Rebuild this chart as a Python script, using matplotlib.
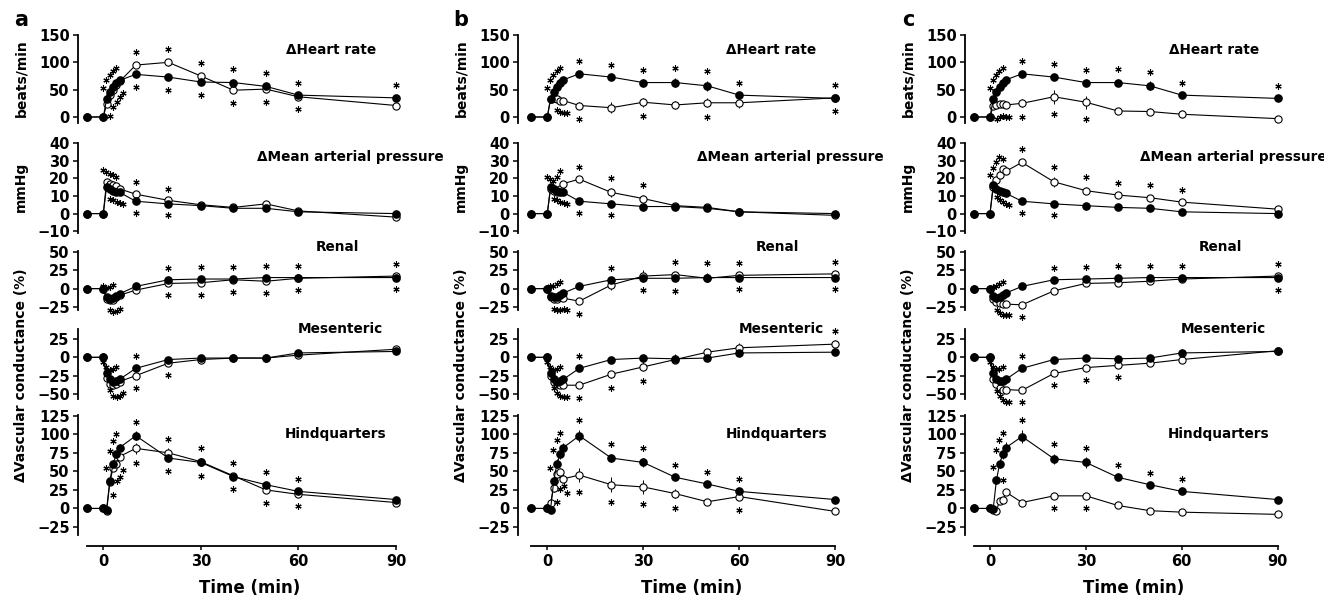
import matplotlib
matplotlib.use("Agg")
from matplotlib import pyplot as plt
from matplotlib import transforms

plt.rcParams["font.family"] = ["DejaVu Sans"]
plt.rcParams["font.weight"] = "bold"

times = [-5, 0, 1, 2, 3, 4, 5, 10, 20, 30, 40, 50, 60, 90]
tick_times = [0, 30, 60, 90]

# ---- column a ----
a_hr_f = [0, 0, 32, 45, 55, 62, 67, 78, 73, 64, 63, 56, 40, 35]
a_hr_o = [0, 0, 23, 40, 50, 58, 65, 95, 100, 75, 49, 51, 37, 21]
a_map_f = [0, 0, 15, 14, 13, 12.5, 12, 7, 5.5, 4.5, 3, 3, 1, 0]
a_map_o = [0, 0, 18, 17, 16, 15.5, 14, 11, 7.5, 5, 3.5, 5.5, 1.5, -2]
a_ren_f = [0, 0, -12, -14, -13, -10, -7, 3, 12, 13, 13, 15, 15, 15]
a_ren_o = [0, 0, -14, -16, -15, -12, -9, -2, 7, 8, 12, 10, 14, 17]
a_mes_f = [0, 0, -22, -30, -33, -32, -30, -15, -3, -1, -1, -1, 6, 8]
a_mes_o = [0, 0, -28, -36, -38, -37, -33, -25, -8, -3, -1, -1, 3, 11]
a_hq_f = [0, 0, -2, 37, 60, 73, 82, 98, 68, 62, 43, 32, 23, 12]
a_hq_o = [0, 0, -4, 35, 55, 60, 70, 81, 75, 63, 44, 25, 19, 8]

a_hr_f_err = [0, 0, 4, 4, 4, 4, 4, 5, 5, 6, 7, 6, 5, 5]
a_hr_o_err = [0, 0, 4, 4, 4, 4, 4, 6, 6, 6, 6, 6, 5, 4]
a_map_f_err = [0, 0, 1, 1, 1, 1, 1, 1, 1, 1, 1, 1, 1, 1]
a_map_o_err = [0, 0, 1, 1, 1, 1, 1, 1.5, 1, 1, 1, 1, 1, 1]
a_ren_f_err = [0, 0, 2, 2, 2, 2, 2, 2, 3, 3, 3, 3, 3, 3]
a_ren_o_err = [0, 0, 2, 2, 2, 2, 2, 3, 3, 3, 3, 3, 3, 3]
a_mes_f_err = [0, 0, 3, 3, 3, 3, 3, 3, 2, 2, 2, 2, 2, 2]
a_mes_o_err = [0, 0, 3, 3, 3, 3, 3, 4, 3, 2, 2, 2, 2, 2]
a_hq_f_err = [0, 0, 2, 4, 5, 5, 5, 6, 5, 5, 4, 4, 3, 3]
a_hq_o_err = [0, 0, 2, 4, 5, 5, 5, 7, 6, 5, 4, 4, 3, 3]

# significance stars: 1 above, -1 below, 0 none
a_hr_f_sig = [0, 0, 1, 1, 1, 1, 1, -1, -1, -1, 1, 1, 1, 1]
a_hr_o_sig = [0, 0, -1, -1, -1, -1, -1, 1, 1, 1, -1, -1, -1, 0]
a_map_f_sig = [0, 0, -1, -1, -1, -1, -1, -1, -1, 0, 0, 0, 0, 0]
a_map_o_sig = [0, 0, 1, 1, 1, 1, 1, 1, 1, 0, 0, 0, 0, 0]
a_ren_f_sig = [0, 0, 1, 1, 1, 1, 0, 0, 1, 1, 1, 1, 1, -1]
a_ren_o_sig = [0, 0, -1, -1, -1, -1, 0, 0, -1, -1, -1, -1, -1, 1]
a_mes_f_sig = [0, 0, 1, 1, 1, 1, 1, 1, 0, 0, 0, 0, 0, 0]
a_mes_o_sig = [0, 0, -1, -1, -1, -1, -1, -1, -1, 0, 0, 0, 0, 0]
a_hq_f_sig = [0, 0, 0, 1, 1, 1, 1, 1, -1, -1, -1, 1, 1, 0]
a_hq_o_sig = [0, 0, 0, -1, -1, -1, -1, -1, 1, 1, 1, -1, -1, 0]

# ---- column b ----
b_hr_f = [0, 0, 32, 45, 55, 62, 68, 79, 73, 63, 63, 57, 40, 34]
b_hr_o = [0, 0, 33, 35, 32, 30, 30, 21, 17, 27, 22, 26, 26, 35]
b_map_f = [0, 0, 15, 14, 13, 12.5, 12, 7, 5.5, 4, 4, 3, 1, 0]
b_map_o = [0, 0, 14, 13, 12, 14, 17, 19.5, 12, 8.5, 4.5, 3.5, 1, -1]
b_ren_f = [0, 0, -10, -12, -12, -9, -6, 3, 12, 14, 14, 15, 15, 15]
b_ren_o = [0, 0, -12, -14, -14, -12, -13, -17, 5, 17, 19, 14, 18, 20]
b_mes_f = [0, 0, -22, -30, -33, -32, -30, -15, -3, -1, -2, -1, 6, 7]
b_mes_o = [0, 0, -25, -33, -36, -38, -38, -38, -23, -13, -3, 7, 13, 18]
b_hq_f = [0, 0, -2, 37, 60, 73, 82, 98, 68, 62, 42, 33, 23, 12]
b_hq_o = [0, 0, 7, 28, 46, 49, 40, 45, 32, 29, 20, 9, 16, -4]

b_hr_f_err = [0, 0, 4, 4, 4, 4, 4, 5, 5, 6, 8, 9, 5, 6]
b_hr_o_err = [0, 0, 5, 5, 5, 5, 5, 6, 10, 8, 7, 8, 10, 6]
b_map_f_err = [0, 0, 1, 1, 1, 1, 1, 1, 1, 1, 1.5, 1.5, 2, 1]
b_map_o_err = [0, 0, 1, 1, 1, 1, 1.5, 1.5, 2.5, 2, 1.5, 1.5, 2, 1]
b_ren_f_err = [0, 0, 2, 2, 2, 2, 2, 2, 3, 3, 4, 6, 3, 3]
b_ren_o_err = [0, 0, 2, 2, 2, 2, 3, 4, 7, 8, 4, 5, 4, 3]
b_mes_f_err = [0, 0, 2, 3, 3, 3, 3, 3, 2, 2, 6, 2, 2, 2]
b_mes_o_err = [0, 0, 3, 3, 3, 3, 3, 4, 5, 6, 5, 5, 7, 5]
b_hq_f_err = [0, 0, 3, 5, 6, 6, 6, 8, 6, 6, 4, 3, 3, 3]
b_hq_o_err = [0, 0, 4, 6, 6, 6, 6, 10, 10, 10, 6, 4, 5, 3]

b_hr_f_sig = [0, 0, 1, 1, 1, 1, 1, 1, 1, 1, 1, 1, 1, -1]
b_hr_o_sig = [0, 0, 0, -1, -1, -1, -1, -1, 0, -1, 0, -1, 0, 1]
b_map_f_sig = [0, 0, -1, -1, -1, -1, -1, -1, -1, 0, 0, 0, 0, 0]
b_map_o_sig = [0, 0, 1, 1, 1, 1, 1, 1, 1, 1, 0, 0, 0, 0]
b_ren_f_sig = [0, 0, 0, 1, 1, 1, 1, 0, 1, -1, -1, 1, -1, -1]
b_ren_o_sig = [0, 0, -1, -1, -1, -1, -1, -1, 0, 0, 1, 0, 1, 1]
b_mes_f_sig = [0, 0, 1, 1, 1, 1, 1, 1, 0, 0, 0, 0, 0, 0]
b_mes_o_sig = [0, 0, -1, -1, -1, -1, -1, -1, -1, -1, 0, 0, 0, 1]
b_hq_f_sig = [0, 0, 0, 1, 1, 1, 1, 1, 1, 1, 1, 1, 1, 0]
b_hq_o_sig = [0, 0, 0, -1, -1, -1, -1, -1, -1, -1, -1, 0, -1, 0]

# ---- column c ----
c_hr_f = [0, 0, 32, 45, 55, 62, 68, 79, 73, 63, 63, 57, 40, 34]
c_hr_o = [0, 0, 20, 22, 24, 23, 22, 25, 37, 27, 11, 10, 5, -3]
c_map_f = [0, 0, 16, 14, 13, 12, 11.5, 7, 5.5, 4.5, 3.5, 3, 1, 0]
c_map_o = [0, 0, 15, 19, 22, 25, 24, 29, 18, 13, 10.5, 9, 6.5, 2.5]
c_ren_f = [0, 0, -10, -13, -12, -9, -6, 3, 12, 13, 14, 15, 15, 15]
c_ren_o = [0, 0, -14, -18, -20, -21, -21, -22, -3, 7, 8, 10, 13, 17]
c_mes_f = [0, 0, -22, -30, -32, -32, -30, -15, -3, -1, -2, -1, 6, 8]
c_mes_o = [0, 0, -30, -37, -42, -44, -44, -45, -22, -14, -11, -8, -3, 9]
c_hq_f = [0, 0, -1, 38, 60, 73, 82, 97, 67, 62, 42, 32, 23, 12]
c_hq_o = [0, 0, -2, -3, 10, 11, 22, 8, 17, 17, 4, -3, -5, -8]

c_hr_f_err = [0, 0, 4, 4, 4, 4, 4, 6, 6, 6, 7, 8, 5, 5]
c_hr_o_err = [0, 0, 5, 5, 5, 5, 5, 7, 13, 12, 6, 6, 7, 4]
c_map_f_err = [0, 0, 1, 1, 1, 1, 1, 1, 1, 1, 1, 1, 1, 1]
c_map_o_err = [0, 0, 1.5, 1.5, 1.5, 1.5, 1.5, 2, 3, 2, 1.5, 1.5, 1.5, 1]
c_ren_f_err = [0, 0, 2, 2, 2, 2, 2, 2, 3, 3, 3, 3, 3, 4]
c_ren_o_err = [0, 0, 2, 2, 2, 2, 2, 3, 3, 3, 3, 3, 4, 3]
c_mes_f_err = [0, 0, 2, 3, 3, 3, 3, 3, 2, 2, 2, 2, 2, 2]
c_mes_o_err = [0, 0, 3, 3, 3, 3, 3, 3, 3, 3, 3, 3, 3, 3]
c_hq_f_err = [0, 0, 3, 5, 6, 6, 7, 9, 7, 7, 4, 3, 3, 3]
c_hq_o_err = [0, 0, 2, 3, 3, 3, 3, 3, 3, 3, 3, 3, 3, 3]

c_hr_f_sig = [0, 0, 1, 1, 1, 1, 1, 1, 1, 1, 1, 1, 1, 1]
c_hr_o_sig = [0, 0, -1, -1, -1, -1, -1, -1, -1, -1, 0, 0, 0, 0]
c_map_f_sig = [0, 0, -1, -1, -1, -1, -1, -1, -1, 0, 0, 0, 0, 0]
c_map_o_sig = [0, 0, 1, 1, 1, 1, 1, 1, 1, 1, 1, 1, 1, 0]
c_ren_f_sig = [0, 0, 0, 1, 1, 1, 1, 0, 1, 1, 1, 1, 1, -1]
c_ren_o_sig = [0, 0, -1, -1, -1, -1, -1, -1, 0, 0, 0, 0, 0, 1]
c_mes_f_sig = [0, 0, 1, 1, 1, 1, 1, 1, 0, 0, 0, 0, 0, 0]
c_mes_o_sig = [0, 0, -1, -1, -1, -1, -1, -1, -1, -1, -1, 0, 0, 0]
c_hq_f_sig = [0, 0, 0, 1, 1, 1, 1, 1, 1, 1, 1, 1, 1, 0]
c_hq_o_sig = [0, 0, 0, 0, 0, 0, 1, 0, -1, -1, 0, 0, 0, 0]

panel_titles = ["\u0394Heart rate", "\u0394Mean arterial pressure", "Renal",
                "Mesenteric", "Hindquarters"]
row_labels = ["beats/min", "mmHg", "\u0394Vascular conductance (%)"]
col_letters = ["a", "b", "c"]

columns = [
    dict(filled=[a_hr_f, a_map_f, a_ren_f, a_mes_f, a_hq_f],
         opened=[a_hr_o, a_map_o, a_ren_o, a_mes_o, a_hq_o],
         f_err=[a_hr_f_err, a_map_f_err, a_ren_f_err, a_mes_f_err, a_hq_f_err],
         o_err=[a_hr_o_err, a_map_o_err, a_ren_o_err, a_mes_o_err, a_hq_o_err],
         f_sig=[a_hr_f_sig, a_map_f_sig, a_ren_f_sig, a_mes_f_sig, a_hq_f_sig],
         o_sig=[a_hr_o_sig, a_map_o_sig, a_ren_o_sig, a_mes_o_sig, a_hq_o_sig]),
    dict(filled=[b_hr_f, b_map_f, b_ren_f, b_mes_f, b_hq_f],
         opened=[b_hr_o, b_map_o, b_ren_o, b_mes_o, b_hq_o],
         f_err=[b_hr_f_err, b_map_f_err, b_ren_f_err, b_mes_f_err, b_hq_f_err],
         o_err=[b_hr_o_err, b_map_o_err, b_ren_o_err, b_mes_o_err, b_hq_o_err],
         f_sig=[b_hr_f_sig, b_map_f_sig, b_ren_f_sig, b_mes_f_sig, b_hq_f_sig],
         o_sig=[b_hr_o_sig, b_map_o_sig, b_ren_o_sig, b_mes_o_sig, b_hq_o_sig]),
    dict(filled=[c_hr_f, c_map_f, c_ren_f, c_mes_f, c_hq_f],
         opened=[c_hr_o, c_map_o, c_ren_o, c_mes_o, c_hq_o],
         f_err=[c_hr_f_err, c_map_f_err, c_ren_f_err, c_mes_f_err, c_hq_f_err],
         o_err=[c_hr_o_err, c_map_o_err, c_ren_o_err, c_mes_o_err, c_hq_o_err],
         f_sig=[c_hr_f_sig, c_map_f_sig, c_ren_f_sig, c_mes_f_sig, c_hq_f_sig],
         o_sig=[c_hr_o_sig, c_map_o_sig, c_ren_o_sig, c_mes_o_sig, c_hq_o_sig]),
]

# layout in pixels (figure is 1324 x 598)
W, H = 1324, 598
col_px = [(78, 103.3, 396.0), (518, 547.3, 835.3), (965, 990.0, 1277.7)]  # spine, t=0, t=90
rows = [
    dict(top=35, bottom=123, ylim=(-11, 150), ticks=[0, 50, 100, 150], tx=70, ty=122),
    dict(top=143, bottom=233, ylim=(-11, 40), ticks=[-10, 0, 10, 20, 30, 40], tx=76, ty=32),
    dict(top=251, bottom=310, ylim=(-29, 51), ticks=[-25, 0, 25, 50], tx=72, ty=57),
    dict(top=329, bottom=399, ylim=(-56.8, 38.6), ticks=[-50, -25, 0, 25], tx=73, ty=38.6),
    dict(top=415, bottom=535, ylim=(-35.8, 126), ticks=[-25, 0, 25, 50, 75, 100, 125], tx=71.5, ty=100.7),
]
label_y = [78, 187, 375]

fig = plt.figure(figsize=(W / 100, H / 100), dpi=100)


def add_px_axes(left, top, right, bottom):
    return fig.add_axes([left / W, 1 - bottom / H, (right - left) / W, (bottom - top) / H])


def draw_stars(ax, vals, errs, sig):
    # early cluster (1-5 min) gets a slight sideways shift, as in the original
    for t, v, e, s in zip(times, vals, errs, sig):
        if s == 0:
            continue
        dx = -2.5 * s if 1 <= t <= 5 else 0
        tr = transforms.offset_copy(ax.transData, fig=fig, x=dx, y=7 * s, units="points")
        ax.plot(t, v + s * e, marker=(6, 2, 0), ms=4.5, mew=0.8, color="black",
                transform=tr, clip_on=False, zorder=5)


for ci, col in enumerate(columns):
    spine, x0, x90 = col_px[ci]
    ppu = (x90 - x0) / 90
    right = x90 + 6
    xlim = ((spine - x0) / ppu, (right - x0) / ppu)

    for ri, r in enumerate(rows):
        ax = add_px_axes(spine, r["top"], right, r["bottom"])
        ax.set_xlim(xlim)
        ax.set_ylim(r["ylim"])
        for s in ["top", "right", "bottom"]:
            ax.spines[s].set_visible(False)
        ax.spines["left"].set_linewidth(1.3)
        ax.set_xticks([])
        ax.set_yticks(r["ticks"])
        ax.tick_params(axis="y", direction="out", length=3.5, width=1.1, pad=2.5,
                       labelsize=10.5)
        ax.patch.set_alpha(0)

        o_vals, o_err = col["opened"][ri], col["o_err"][ri]
        f_vals, f_err = col["filled"][ri], col["f_err"][ri]
        ax.errorbar(times, o_vals, yerr=o_err, fmt="none", ecolor="black",
                    elinewidth=0.7, capsize=0, zorder=2, clip_on=False)
        ax.errorbar(times, f_vals, yerr=f_err, fmt="none", ecolor="black",
                    elinewidth=0.7, capsize=0, zorder=2, clip_on=False)
        ax.plot(times, o_vals, color="black", lw=0.8, marker="o", ms=5.2,
                mfc="white", mec="black", mew=0.8, zorder=3, clip_on=False)
        ax.plot(times, f_vals, color="black", lw=0.8, marker="o", ms=5.2,
                mfc="black", mec="black", zorder=4, clip_on=False)
        draw_stars(ax, o_vals, o_err, col["o_sig"][ri])
        draw_stars(ax, f_vals, f_err, col["f_sig"][ri])

        ax.text(r["tx"], r["ty"], panel_titles[ri], ha="center", va="center",
                fontsize=9.8, fontweight="bold", clip_on=False)

    # time axis
    xa = add_px_axes(spine, 530, right, 546)
    xa.set_xlim(xlim)
    xa.set_ylim(0, 1)
    for s in ["top", "right", "left"]:
        xa.spines[s].set_visible(False)
    xa.spines["bottom"].set_linewidth(1.3)
    xa.spines["bottom"].set_bounds(-5, 90)
    xa.set_yticks([])
    xa.set_xticks(tick_times)
    xa.tick_params(axis="x", direction="out", length=3, width=1.1, pad=3,
                   labelsize=10.5)
    xa.patch.set_alpha(0)
    fig.text((x0 + x90) / 2 / W, 1 - 588 / H, "Time (min)", ha="center", va="center",
             fontsize=12, fontweight="bold")

    lx = spine - 57
    for li, lab in enumerate(row_labels):
        fig.text(lx / W, 1 - label_y[li] / H, lab, rotation=90, ha="center",
                 va="center", fontsize=10, fontweight="bold")
    fig.text(lx / W, 1 - 20 / H, col_letters[ci], ha="center", va="center",
             fontsize=15, fontweight="bold")

fig.savefig("out.png", dpi=100)
